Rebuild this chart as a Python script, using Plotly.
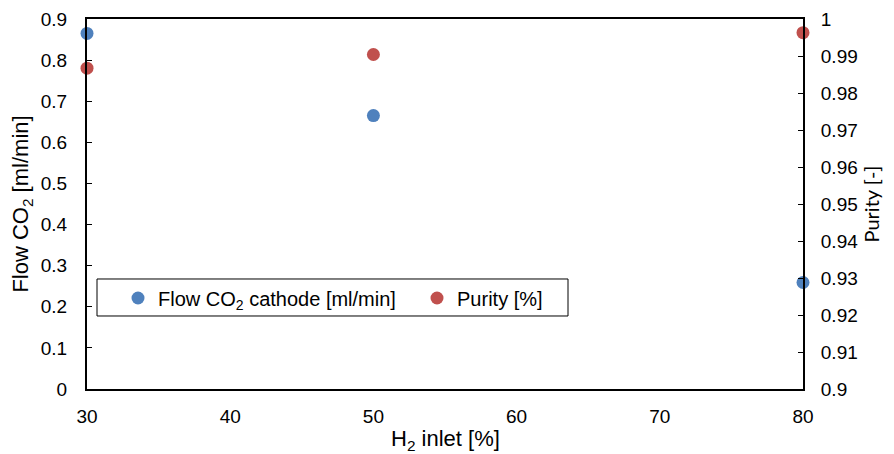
import plotly.graph_objects as go

h2_inlet = [30, 50, 80]
flow_co2 = [0.865, 0.665, 0.259]
purity = [0.9867, 0.9904, 0.9963]

x_ticks = [30, 40, 50, 60, 70, 80]
left_ticks = [0, 0.1, 0.2, 0.3, 0.4, 0.5, 0.6, 0.7, 0.8, 0.9]
left_labels = ["0", "0.1", "0.2", "0.3", "0.4", "0.5", "0.6", "0.7", "0.8", "0.9"]
right_ticks = [0.9, 0.91, 0.92, 0.93, 0.94, 0.95, 0.96, 0.97, 0.98, 0.99, 1]
right_labels = ["0.9", "0.91", "0.92", "0.93", "0.94", "0.95", "0.96", "0.97", "0.98", "0.99", "1"]

FAMILY = "Liberation Sans, Arial, sans-serif"


def tf(size, family=FAMILY):
    return dict(family=family, size=size, color="black")


fig = go.Figure()
fig.add_trace(go.Scatter(
    x=h2_inlet, y=flow_co2, mode="markers",
    name="Flow CO<sub>2</sub> cathode [ml/min]",
    marker=dict(color="#4F81BD", size=13),
    cliponaxis=False,
))
fig.add_trace(go.Scatter(
    x=h2_inlet, y=purity, mode="markers", name="Purity [%]",
    marker=dict(color="#C0504D", size=13), yaxis="y2",
    cliponaxis=False,
))

# legend frame
fig.add_shape(type="rect", xref="paper", yref="paper",
              x0=0.01397, x1=0.6718, y0=0.1973, y1=0.2973,
              line=dict(color="black", width=1), fillcolor="white", layer="below")

# x-axis title
fig.add_annotation(text="H<sub>2</sub> inlet [%]", xref="paper", yref="paper",
                   x=0.5, y=-0.137, xanchor="center", yanchor="middle",
                   showarrow=False, font=tf(22))

fig.update_layout(
    width=894, height=454,
    margin=dict(l=87, r=91, t=19, b=65),
    plot_bgcolor="white", paper_bgcolor="white",
    font=tf(19),
    xaxis=dict(
        range=[30, 80], tickvals=x_ticks, showgrid=False, zeroline=False,
        showline=True, linecolor="black", linewidth=2, mirror=True,
        ticks="", ticklabelstandoff=9, automargin=False, tickfont=tf(19),
    ),
    yaxis=dict(
        range=[0, 0.9], tickvals=left_ticks, ticktext=left_labels,
        showgrid=False, zeroline=False,
        showline=True, linecolor="black", linewidth=2,
        ticks="inside", ticklen=5, tickwidth=1, tickcolor="black",
        ticklabelstandoff=14, automargin=False, tickfont=tf(19),
        title=dict(text="Flow CO<sub>2</sub> [ml/min]", standoff=6, font=tf(22)),
    ),
    yaxis2=dict(
        range=[0.9, 1], tickvals=right_ticks, ticktext=right_labels,
        overlaying="y", side="right",
        showgrid=False, zeroline=False,
        showline=True, linecolor="black", linewidth=2,
        ticks="inside", ticklen=5, tickwidth=1, tickcolor="black",
        ticklabelstandoff=12, automargin=False, tickfont=tf(19),
        title=dict(text="Purity [-]", standoff=8, font=tf(20, "Lato, sans-serif")),
    ),
    showlegend=True,
    legend=dict(
        orientation="h", x=0.0433, y=0.246, xanchor="left", yanchor="middle",
        borderwidth=0, bgcolor="rgba(0,0,0,0)",
        font=tf(20),
        entrywidth=254, entrywidthmode="pixels",
        itemwidth=30,
    ),
)

fig.write_html("out.html")
